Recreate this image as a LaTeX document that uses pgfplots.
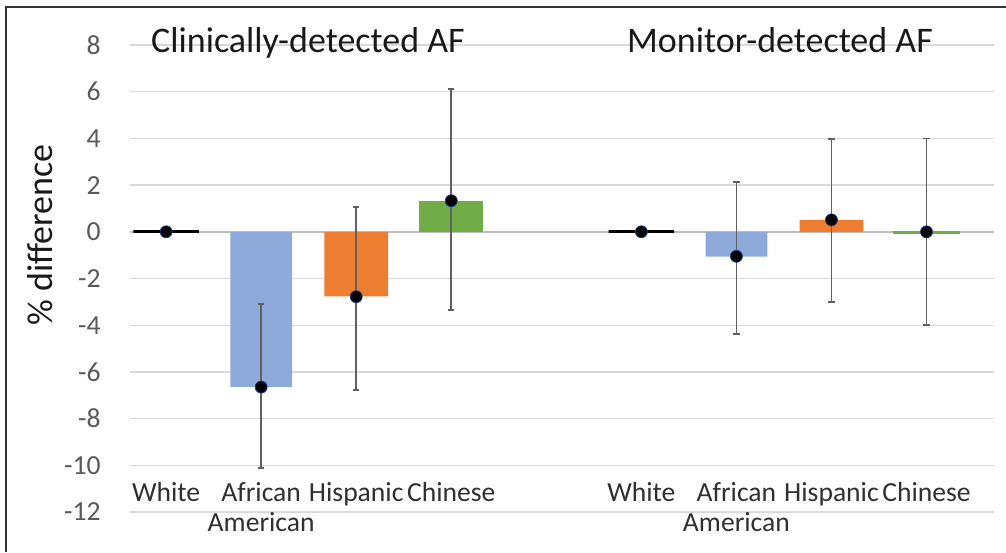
\documentclass[border=0pt]{standalone}
\usepackage{fontspec}
\setmainfont{Carlito}
\usepackage{pgfplots}
\pgfplotsset{compat=1.18}
\definecolor{barblue}{HTML}{8EAADB}
\definecolor{barorange}{HTML}{ED7D31}
\definecolor{bargreen}{HTML}{70AD47}
\definecolor{gridgray}{HTML}{D9D9D9}
\definecolor{zerogray}{HTML}{BFBFBF}
\definecolor{ticktext}{HTML}{595959}
\definecolor{cattext}{HTML}{303030}
\definecolor{errgray}{HTML}{606060}
\definecolor{dotedge}{HTML}{1F3C88}
\begin{document}
\begin{tikzpicture}
\begin{axis}[
  at={(65pt,-256pt)}, anchor=south west,
  scale only axis, width=432pt, height=233.5pt,
  xmin=-0.38, xmax=8.71, ymin=-12, ymax=8,
  axis line style={draw=none},
  ytick={-12,-10,...,8},
  yticklabels={-12,-10,-8,-6,-4,-2,0,2,4,6,8},
  yticklabel style={font=\fontsize{13.8}{15}\selectfont, text=ticktext, inner sep=0pt, xshift=-14.5pt},
  xtick={0,1,2,3,5,6,7,8},
  xticklabels={White,{African\\American},Hispanic,Chinese,White,{African\\American},Hispanic,Chinese},
  xticklabel style={font=\fontsize{13.8}{15}\selectfont, text=cattext, align=center, anchor=north, inner sep=0pt, yshift=15pt},
  major tick length=0pt,
  ymajorgrids, grid style={color=gridgray, line width=0.7pt},
  extra y ticks={0}, extra y tick labels={},
  extra y tick style={grid style={color=zerogray, line width=1pt}},
  clip=false,
]
% White (reference) bars drawn as lines
\addplot[ybar, bar width=0.69, bar shift=0, draw=black, line width=1.6pt, fill=black]
  coordinates {(0,0) (5,0)};
% African American
\addplot[ybar, bar width=0.65, bar shift=0, draw=none, fill=barblue]
  coordinates {(1,-6.64) (6,-1.06)};
% Hispanic
\addplot[ybar, bar width=0.67, bar shift=0, draw=none, fill=barorange]
  coordinates {(2,-2.77) (7,0.51)};
% Chinese
\addplot[ybar, bar width=0.67, bar shift=0, draw=none, fill=bargreen]
  coordinates {(3,1.33)};
\addplot[ybar, bar width=0.69, bar shift=0, draw=bargreen, line width=1.1pt, fill=bargreen]
  coordinates {(8,-0.03)};
% error bars
\addplot[only marks, mark=none, color=errgray,
  error bars/.cd, y dir=both, y explicit,
  error bar style={draw=errgray, line width=0.85pt},
  error mark=|,
  error mark options={draw=errgray, line width=0.9pt, mark size=1.6pt}]
  coordinates {
  (1,-6.65) += (0,3.57) -= (0,3.45)
  (2,-2.78) += (0,3.83) -= (0,3.99)
  (3,1.33) += (0,4.77) -= (0,4.67)
  (6,-1.05) += (0,3.2) -= (0,3.32)
  (7,0.51) += (0,3.47) -= (0,3.51)
  (8,0) += (0,4.0) -= (0,4.0)
  };
% point estimates
\addplot[only marks, mark=*, mark size=3pt, mark options={fill=black, draw=dotedge, line width=0.4pt}]
  coordinates {(0,0) (1,-6.65) (2,-2.78) (3,1.33) (5,0) (6,-1.05) (7,0.51) (8,0)};
\end{axis}
\node[anchor=base, font=\fontsize{18}{20}\selectfont, text=black!90] at (154pt,-26pt) {Clinically-detected AF};
\node[anchor=base, font=\fontsize{18}{20}\selectfont, text=black!90] at (390pt,-26pt) {Monitor-detected AF};
\node[anchor=base, rotate=90, font=\fontsize{18}{20}\selectfont, text=black!90] at (26pt,-117.5pt) {\% difference};
\draw[line width=1pt, color=black!80] (3pt,-276pt) -- (3pt,-3.5pt) -- (503pt,-3.5pt);
\pgfresetboundingbox
\path[use as bounding box] (0,0) rectangle (503pt,-276pt);
\end{tikzpicture}
\end{document}
